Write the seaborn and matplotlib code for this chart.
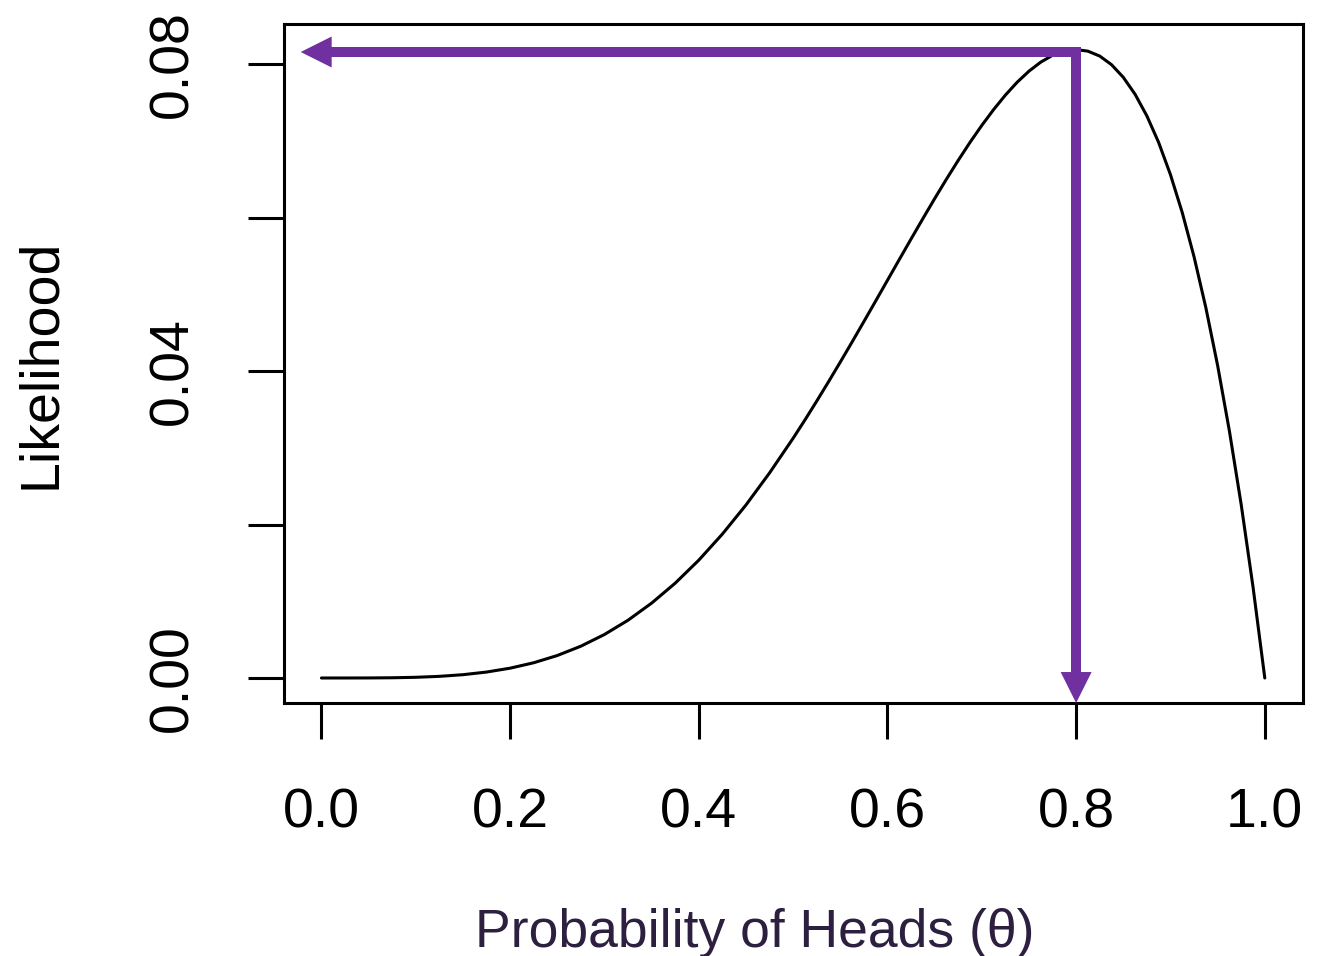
import numpy as np
import pandas as pd
import matplotlib
matplotlib.use("Agg")
import matplotlib.pyplot as plt
import seaborn as sns

# likelihood curve
theta = [0.000, 0.025, 0.050, 0.075, 0.100, 0.125, 0.150, 0.175, 0.200, 0.225,
         0.250, 0.275, 0.300, 0.325, 0.350, 0.375, 0.400, 0.425, 0.450, 0.475,
         0.5000, 0.5125, 0.5250, 0.5375, 0.5500, 0.5625, 0.5750, 0.5875,
         0.6000, 0.6125, 0.6250, 0.6375, 0.6500, 0.6625, 0.6750, 0.6875,
         0.7000, 0.7125, 0.7250, 0.7375, 0.7500, 0.7625, 0.7750, 0.7875,
         0.8000, 0.8125, 0.8250, 0.8375, 0.8500, 0.8625, 0.8750, 0.8875,
         0.9000, 0.9125, 0.9250, 0.9375, 0.9500, 0.9625, 0.9750, 0.9875,
         1.0000]
likelihood = [0.0, 0.0000004, 0.000006, 0.00003, 0.00009, 0.000214, 0.00043, 0.000774,
              0.00128, 0.001986, 0.00293, 0.004146, 0.00567, 0.007531, 0.00976, 0.01236,
              0.01536, 0.01876, 0.02255, 0.02673,
              0.03125, 0.03363, 0.03609, 0.03861, 0.04118, 0.04380, 0.04646, 0.04914,
              0.05184, 0.05454, 0.05722, 0.05987, 0.06248, 0.06502, 0.06747, 0.06982,
              0.07203, 0.07409, 0.07598, 0.07766, 0.07910, 0.08028, 0.08117, 0.08173,
              0.08192, 0.08171, 0.08107, 0.07995, 0.07830, 0.07609, 0.07327, 0.06980,
              0.06561, 0.06067, 0.05491, 0.04828, 0.04073, 0.03218, 0.02259, 0.01189,
              0.0]

x_ticks = [0.0, 0.2, 0.4, 0.6, 0.8, 1.0]
x_ticklabels = ["0.0", "0.2", "0.4", "0.6", "0.8", "1.0"]
y_ticks = [0.00, 0.02, 0.04, 0.06, 0.08]
y_ticklabels = ["0.00", "", "0.04", "", "0.08"]

# arrows: from the peak to the y axis and down to the x axis
mle_theta = 0.8
arrow_y = 0.0816
arrow_left = -0.022

purple = "#7030A0"

df = pd.DataFrame({"theta": theta, "likelihood": likelihood})

sns.set_style("ticks")
plt.rcParams["font.family"] = ["Liberation Sans", "DejaVu Sans"]
plt.rcParams["text.color"] = "black"
plt.rcParams["xtick.color"] = "black"
plt.rcParams["ytick.color"] = "black"
plt.rcParams["axes.labelcolor"] = "black"

fig = plt.figure(figsize=(13.22, 9.56), dpi=100)
ax = fig.add_axes([284 / 1322, 1 - 703 / 956, (1303 - 284) / 1322, (703 - 24) / 956])

sns.lineplot(data=df, x="theta", y="likelihood", ax=ax, color="black", linewidth=2.2)

ax.set_xlim(-0.0397, 1.0405)
ax.set_ylim(-0.00326, 0.08525)
y_bottom = ax.get_ylim()[0]

# shafts
head_x = 31 / 944.7      # head length in x data units
head_y = 31 / 7675       # head length in y data units
ax.plot([mle_theta + 0.005, arrow_left + head_x * 0.6], [arrow_y, arrow_y],
        color=purple, lw=7.2, solid_capstyle="butt")
ax.plot([mle_theta, mle_theta], [arrow_y + 0.0006, y_bottom + head_y * 0.6],
        color=purple, lw=7.2, solid_capstyle="butt")

# heads
head = "-|>,head_length=1.0,head_width=0.5"
ax.annotate("", xy=(arrow_left, arrow_y), xytext=(arrow_left + 0.1, arrow_y),
            arrowprops=dict(arrowstyle=head, color=purple, lw=0,
                            mutation_scale=22.3, shrinkA=0, shrinkB=0))
ax.annotate("", xy=(mle_theta, y_bottom), xytext=(mle_theta, y_bottom + 0.01),
            arrowprops=dict(arrowstyle=head, color=purple, lw=0,
                            mutation_scale=22.3, shrinkA=0, shrinkB=0))

ax.set_xticks(x_ticks)
ax.set_xticklabels(x_ticklabels)
ax.set_yticks(y_ticks)
ax.set_yticklabels(y_ticklabels, rotation=90, va="center")

ax.tick_params(axis="both", length=26, width=2.2, pad=35, labelsize=40,
               color="black", labelcolor="black")
for s in ax.spines.values():
    s.set_linewidth(2.2)
    s.set_color("black")

ax.set_xlabel("")
ax.set_ylabel("Likelihood", fontsize=40, va="center", color="black")
ax.yaxis.set_label_coords((41 - 284) / 1019, 0.5)

fig.text(755 / 1322, (956 - 947) / 956, "Probability of Heads (θ)",
         ha="center", va="baseline", fontsize=38.5, color="#2d1f40")

plt.savefig("out.png", dpi=100)
